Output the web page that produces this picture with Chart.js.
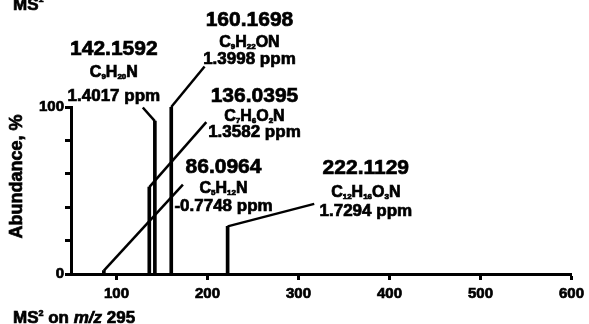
<!DOCTYPE html>
<html>
<head>
<meta charset="utf-8">
<script src="https://cdn.jsdelivr.net/npm/chart.js@4/dist/chart.umd.min.js"></script>
<style>
  html, body { margin: 0; padding: 0; background: #fff; }
  #wrap { width: 589px; height: 324px; position: relative; }
</style>
</head>
<body>
<div id="wrap"><canvas id="msChart"></canvas></div>
<script>
// peak data (m/z, relative abundance %)
const mzValues = [86.0964, 136.0395, 142.1592, 160.1698, 222.1129];
const abundance = [2, 52, 91.5, 100, 28.5];
const formulas = ['C5H12N', 'C7H6O2N', 'C9H20N', 'C9H22ON', 'C12H16O3N'];
const ppmErrors = ['-0.7748', '1.3582', '1.4017', '1.3998', '1.7294'];

// axis ticks
const xTicks = [100, 200, 300, 400, 500, 600];
const yTicks = [0, 20, 40, 60, 80, 100];
const yTickLabels = ['0', '', '', '', '', '100'];

// annotation layout, in data units (m/z, %)
const labelAnchor = [[217.6, 63.7], [251.6, 106.5], [97.1, 134.8], [246.1, 152.1], [374.0, 63.5]];
const leaderEnd = [[173.0, 53.5], [198.7, 90.9], [128.9, 99.7], [196.8, 124.3], [317.3, 42.0]];
const lineOffsets = [[0, 19, 39], [0, 19, 36.5], [0, 22, 47], [0, 21, 39], [0, 23, 43]];

const FONT = '"Liberation Sans", Arial, Helvetica, sans-serif';
const HEAVY = 0.7; // extra stroke to thicken the bold text a little

function heavyText(ctx, str, x, y) {
    ctx.lineWidth = HEAVY;
    ctx.strokeText(str, x, y);
    ctx.fillText(str, x, y);
}

function drawFormula(ctx, text, cx, cy) {
    const big = 'bold 16px ' + FONT;
    const small = 'bold 8px ' + FONT;
    const parts = text.split('').map(ch => ({ ch, sub: /[0-9]/.test(ch) }));
    let total = 0;
    parts.forEach(p => {
        ctx.font = p.sub ? small : big;
        p.w = ctx.measureText(p.ch).width;
        total += p.w;
    });
    let px = cx - total / 2;
    ctx.textAlign = 'left';
    ctx.textBaseline = 'alphabetic';
    const base = cy + 6;
    parts.forEach(p => {
        ctx.font = p.sub ? small : big;
        heavyText(ctx, p.ch, px, p.sub ? base + 2 : base);
        px += p.w;
    });
    ctx.textAlign = 'center';
    ctx.textBaseline = 'middle';
}

const annotate = {
    id: 'annotate',
    afterDatasetsDraw(chart) {
        const { ctx, scales: { x, y } } = chart;
        ctx.save();
        ctx.strokeStyle = '#000';
        ctx.fillStyle = '#000';
        mzValues.forEach((mz, i) => {
            ctx.lineWidth = 2.5;
            ctx.beginPath();
            ctx.moveTo(x.getPixelForValue(mz), y.getPixelForValue(abundance[i]));
            ctx.lineTo(x.getPixelForValue(leaderEnd[i][0]), y.getPixelForValue(leaderEnd[i][1]));
            ctx.stroke();

            const cx = x.getPixelForValue(labelAnchor[i][0]);
            const cy = y.getPixelForValue(labelAnchor[i][1]);
            ctx.textAlign = 'center';
            ctx.textBaseline = 'middle';
            ctx.font = 'bold 21px ' + FONT;
            heavyText(ctx, mz.toFixed(4), cx, cy + lineOffsets[i][0]);
            drawFormula(ctx, formulas[i], cx, cy + lineOffsets[i][1]);
            ctx.font = 'bold 17px ' + FONT;
            heavyText(ctx, ppmErrors[i] + ' ppm', cx, cy + lineOffsets[i][2]);
        });

        // y axis title
        ctx.save();
        ctx.translate(17, 176.5);
        ctx.rotate(-Math.PI / 2);
        ctx.font = 'bold 18px ' + FONT;
        ctx.textAlign = 'center';
        ctx.textBaseline = 'middle';
        heavyText(ctx, 'Abundance, %', 0, 0);
        ctx.restore();

        // panel captions
        ctx.textAlign = 'left';
        ctx.textBaseline = 'alphabetic';
        let tx = 13;
        ctx.font = 'bold 17px ' + FONT;
        heavyText(ctx, 'MS', tx, 9.5);
        tx += ctx.measureText('MS').width;
        ctx.font = 'bold 9px ' + FONT;
        heavyText(ctx, '1', tx, 2);

        tx = 13;
        const by = 323;
        ctx.font = 'bold 17px ' + FONT;
        heavyText(ctx, 'MS', tx, by);
        tx += ctx.measureText('MS').width;
        ctx.font = 'bold 9px ' + FONT;
        heavyText(ctx, '2', tx, by - 7);
        tx += ctx.measureText('2').width;
        ctx.font = 'bold 17px ' + FONT;
        heavyText(ctx, ' on ', tx, by);
        tx += ctx.measureText(' on ').width;
        ctx.font = 'italic bold 17px ' + FONT;
        heavyText(ctx, 'm/z', tx, by);
        tx += ctx.measureText('m/z').width;
        ctx.font = 'bold 17px ' + FONT;
        heavyText(ctx, ' 295', tx, by);
        ctx.restore();
    }
};

new Chart(document.getElementById('msChart'), {
    type: 'bar',
    data: {
        datasets: [{
            data: mzValues.map((mz, i) => ({ x: mz, y: abundance[i] })),
            backgroundColor: '#000',
            borderWidth: 0,
            barThickness: 3
        }]
    },
    options: {
        responsive: true,
        maintainAspectRatio: false,
        animation: false,
        layout: { padding: { left: 0, top: 107, right: 16, bottom: 0 } },
        plugins: { legend: { display: false }, tooltip: { enabled: false } },
        scales: {
            x: {
                type: 'linear',
                min: 50,
                max: 600,
                offset: false,
                afterBuildTicks: scale => { scale.ticks = xTicks.map(v => ({ value: v })); },
                afterFit: scale => { scale.height = 50; },
                grid: {
                    offset: false,
                    drawOnChartArea: false,
                    drawTicks: true,
                    tickLength: 6,
                    tickWidth: 3,
                    tickColor: '#000'
                },
                border: { display: true, color: '#000', width: 3 },
                ticks: {
                    color: '#000',
                    padding: 5,
                    maxRotation: 0,
                    textStrokeColor: '#000',
                    textStrokeWidth: HEAVY,
                    font: { family: FONT, size: 15, weight: 'bold' }
                }
            },
            y: {
                min: 0,
                max: 100,
                afterBuildTicks: scale => { scale.ticks = yTicks.map(v => ({ value: v })); },
                afterFit: scale => { scale.width = 71; },
                grid: {
                    drawOnChartArea: false,
                    drawTicks: true,
                    tickLength: 6,
                    tickWidth: 3,
                    tickColor: '#000'
                },
                border: { display: true, color: '#000', width: 3 },
                ticks: {
                    color: '#000',
                    padding: 1,
                    textStrokeColor: '#000',
                    textStrokeWidth: HEAVY,
                    font: { family: FONT, size: 15, weight: 'bold' },
                    callback: (v) => yTickLabels[yTicks.indexOf(v)]
                }
            }
        }
    },
    plugins: [annotate]
});
</script>
</body>
</html>
